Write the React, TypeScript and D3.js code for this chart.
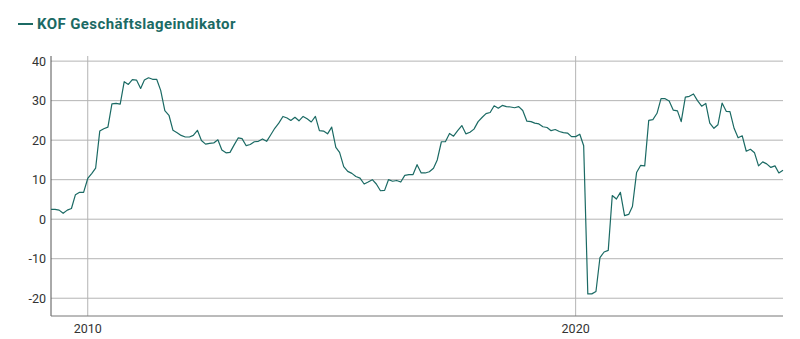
import React from 'react';
import * as d3 from 'd3';

// KOF Geschäftslageindikator, monthly, from April 2009 to April 2024
const startMonth = new Date(2009, 3, 1);

const values: number[] = [
  2.5, 2.5, 2.3, 1.5, 2.3, 2.7, 6.2, 6.8, 6.8,
  10.3, 11.6, 12.9, 22.3, 22.9, 23.3, 29.2, 29.3, 29.1, 34.8, 34.1, 35.3,
  35.2, 33.1, 35.2, 35.8, 35.4, 35.4, 32.6, 27.5, 26.3, 22.5, 21.9, 21.2,
  20.8, 20.8, 21.2, 22.5, 19.9, 19.0, 19.2, 19.3, 20.1, 17.5, 16.8, 16.9,
  18.8, 20.6, 20.4, 18.6, 18.9, 19.6, 19.7, 20.3, 19.7, 21.3, 23.0, 24.3,
  26.0, 25.6, 25.0, 25.8, 24.9, 26.0, 25.4, 24.6, 26.0, 22.4, 22.3, 21.6,
  23.3, 18.2, 16.9, 13.3, 12.1, 11.6, 10.8, 10.4, 8.9, 9.4, 10.0, 8.9,
  7.2, 7.3, 10.0, 9.6, 9.8, 9.4, 11.1, 11.3, 11.3, 13.8, 11.7, 11.7,
  12.0, 12.9, 15.0, 19.6, 19.6, 21.7, 21.0, 22.4, 23.7, 21.6, 22.0, 22.8,
  24.7, 25.8, 26.7, 27.0, 28.7, 28.1, 28.8, 28.5, 28.4, 28.2, 28.5, 27.5,
  24.8, 24.7, 24.3, 24.1, 23.4, 23.2, 22.4, 22.7, 22.2, 21.9, 21.8, 20.9,
  20.9, 21.5, 18.6, -18.9, -18.9, -18.3, -9.7, -8.3, -7.9, 6.0, 5.1, 6.8,
  0.9, 1.2, 3.2, 11.8, 13.6, 13.5, 25.0, 25.2, 26.8, 30.5, 30.5, 29.9,
  27.6, 27.4, 24.7, 30.9, 31.1, 31.7, 30.0, 28.6, 29.3, 24.3, 23.0, 23.9,
  29.4, 27.3, 27.2, 23.0, 20.6, 21.1, 17.2, 17.7, 16.8, 13.5, 14.5, 14.0,
  13.1, 13.5, 11.7, 12.4,
];

const yTicks = [-20, -10, 0, 10, 20, 30, 40];
const xTickYears = [2010, 2020];
const title = 'KOF Geschäftslageindikator';

const width = 800;
const height = 339;
const margin = { top: 56, right: 17, bottom: 23, left: 51 };
const teal = '#1b6a64';

const App: React.FC = () => {
  const data = values.map((v, i) => ({
    date: d3.timeMonth.offset(startMonth, i),
    value: v,
  }));

  const x = d3
    .scaleTime()
    .domain(d3.extent(data, d => d.date) as [Date, Date])
    .range([margin.left, width - margin.right]);

  const y = d3
    .scaleLinear()
    .domain([-24.5, 41.3])
    .range([height - margin.bottom, margin.top]);

  const line = d3
    .line<{ date: Date; value: number }>()
    .x(d => x(d.date))
    .y(d => y(d.value));

  const x0 = margin.left;
  const x1 = width - margin.right;
  const yBottom = height - margin.bottom;

  return (
    <svg
      width={width}
      height={height}
      style={{ position: 'absolute', left: 0, top: 0, background: '#fff' }}
      fontFamily="Roboto, 'DejaVu Sans', sans-serif"
    >
      {/* legend title */}
      <g fill={teal} fontWeight="bold" fontSize={15}>
        <line x1={18} x2={33} y1={24} y2={24} stroke={teal} strokeWidth={2} />
        <text x={37} y={29} letterSpacing={0.4}>{title}</text>
      </g>

      {/* horizontal grid + y labels */}
      <g>
        {yTicks.map(t => (
          <g key={t}>
            <line x1={x0} x2={x1} y1={y(t)} y2={y(t)} stroke="#b4b4b4" strokeWidth={1} />
            <text x={46} y={y(t) + 4.5} textAnchor="end" fontSize={12.5} fill="#333">
              {t}
            </text>
          </g>
        ))}
      </g>

      {/* vertical grid + x labels */}
      <g>
        {xTickYears.map(yr => {
          const xx = x(new Date(yr, 0, 1));
          return (
            <g key={yr}>
              <line x1={xx} x2={xx} y1={margin.top} y2={yBottom} stroke="#b4b4b4" strokeWidth={1} />
              <text x={xx} y={333} textAnchor="middle" fontSize={12.5} fill="#333">
                {yr}
              </text>
            </g>
          );
        })}
      </g>

      {/* axes */}
      <line x1={x0} x2={x0} y1={margin.top} y2={yBottom} stroke="#555" strokeWidth={1} />
      <line x1={x0} x2={x1} y1={yBottom} y2={yBottom} stroke="#777" strokeWidth={1} />

      <path d={line(data) || ''} fill="none" stroke={teal} strokeWidth={1.2} strokeLinejoin="round" />
    </svg>
  );
};

export default App;
